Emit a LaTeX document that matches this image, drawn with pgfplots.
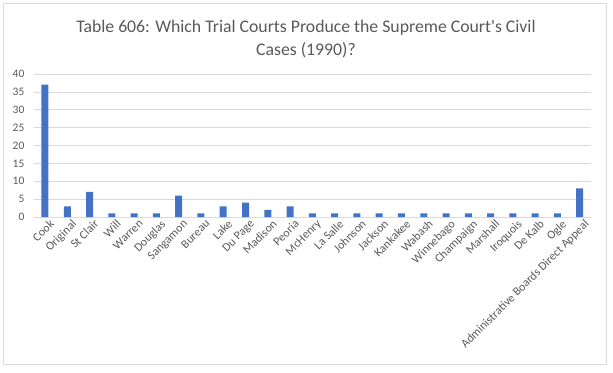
\documentclass[border=0pt]{standalone}
\usepackage{fontspec}
\setmainfont{Carlito}
\usepackage{pgfplots}
\pgfplotsset{compat=1.18}
\definecolor{barblue}{HTML}{4472C4}
\definecolor{txtgray}{HTML}{595959}
\definecolor{gridgray}{HTML}{D9D9D9}
\begin{document}
\begin{tikzpicture}[x=1bp,y=1bp]
\path[use as bounding box] (0,0) rectangle (613,372);
\draw[gridgray, line width=0.8bp] (3,8) rectangle (606,369);
\node[text=txtgray, align=center, font=\fontsize{17.8}{23.5}\selectfont] at (306,333)
  {Table 606: Which Trial Courts Produce the Supreme Court\textquotesingle s Civil\\Cases (1990)?};
\begin{axis}[
  at={(33.85bp,155bp)}, anchor=south west,
  scale only axis, width=557bp, height=143bp,
  xmin=-0.5, xmax=24.5, ymin=0, ymax=40,
  ytick={0,5,...,40},
  xtick={0,...,24},
  xticklabels={Cook,Original,St Clair,Will,Warren,Douglas,Sangamon,Bureau,Lake,Du Page,Madison,Peoria,McHenry,La Salle,Johnson,Jackson,Kankakee,Wabash,Winnebago,Champaign,Marshall,Iroquois,De Kalb,Ogle,Administrative Boards Direct Appeal},
  x tick label style={rotate=45, anchor=north east, font=\fontsize{12}{13}\selectfont, text=txtgray, inner sep=1bp, yshift=-3bp, xshift=2.5bp},
  y tick label style={font=\fontsize{11.5}{13}\selectfont, text=txtgray, xshift=-6bp},
  /pgf/number format/assume math mode=true,
  ymajorgrids, grid style={gridgray, line width=0.7bp},
  axis line style={draw=none},
  major tick length=0pt,
  clip=false,
]
\addplot[ybar, bar width=7bp, fill=barblue, draw=none] coordinates {
(0,37) (1,3) (2,7) (3,1) (4,1) (5,1) (6,6) (7,1) (8,3) (9,4) (10,2) (11,3) (12,1)
(13,1) (14,1) (15,1) (16,1) (17,1) (18,1) (19,1) (20,1) (21,1) (22,1) (23,1) (24,8)};
\end{axis}
\end{tikzpicture}
\end{document}
